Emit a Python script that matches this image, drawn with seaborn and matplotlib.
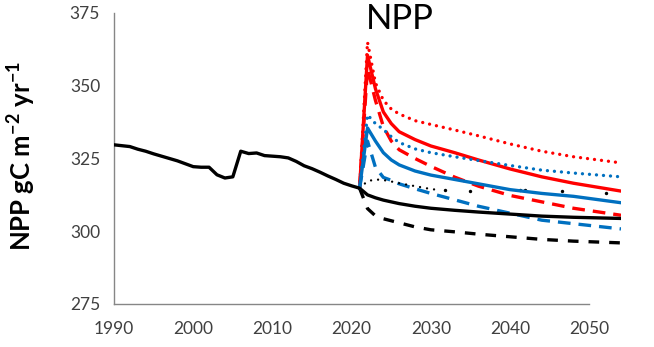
import numpy as np
import pandas as pd
import matplotlib
matplotlib.use("Agg")
import matplotlib.pyplot as plt
import seaborn as sns

# ---- data -------------------------------------------------------------
hist_years = [1990, 1991, 1992, 1993, 1994, 1995, 1996, 1997, 1998, 1999,
              2000, 2001, 2002, 2003, 2004, 2005, 2006, 2007, 2008, 2009,
              2010, 2011, 2012, 2013, 2014, 2015, 2016, 2017, 2018, 2019,
              2020, 2021]
hist_npp = [329.7, 329.4, 329.1, 328.2, 327.5, 326.6, 325.8, 325.0, 324.2, 323.2,
            322.2, 322.0, 322.0, 319.4, 318.3, 318.7, 327.5, 326.7, 326.9, 326.0,
            325.8, 325.6, 325.2, 324.0, 322.5, 321.5, 320.3, 319.0, 317.8, 316.5,
            315.6, 314.8]

scen_years = [2021, 2022, 2023, 2024, 2025, 2026, 2028, 2030, 2033, 2036,
              2040, 2044, 2048, 2054]
red_dotted = [314.8, 365.0, 351.0, 345.0, 342.0, 340.3, 338.0, 336.7, 334.8, 332.8,
              330.0, 327.5, 325.6, 323.5]
red_solid = [314.8, 360.5, 349.0, 341.0, 337.0, 334.2, 331.5, 329.3, 327.0, 324.5,
             321.4, 318.7, 316.5, 313.8]
red_dashed = [314.8, 356.0, 345.0, 336.0, 331.0, 328.0, 325.0, 322.3, 318.6, 315.5,
              312.3, 310.1, 307.9, 305.5]
blue_dotted = [314.8, 340.0, 337.0, 335.0, 332.5, 330.5, 328.3, 327.0, 325.6, 324.3,
               322.6, 321.0, 320.0, 318.7]
blue_solid = [314.8, 335.5, 331.0, 327.0, 324.5, 322.8, 320.7, 319.3, 317.8, 316.3,
              314.3, 313.0, 312.0, 309.8]
blue_dashed = [314.8, 331.0, 322.0, 318.5, 317.5, 316.3, 314.6, 313.0, 310.8, 308.6,
               306.2, 303.8, 302.6, 300.8]
black_solid = [314.8, 312.5, 311.5, 310.7, 310.1, 309.5, 308.6, 307.9, 307.2, 306.6,
               305.9, 305.2, 304.8, 304.4]
black_dashed = [314.8, 307.8, 305.3, 304.3, 303.6, 302.9, 301.5, 300.5, 299.8, 299.0,
                298.1, 297.2, 296.6, 296.0]

black_dotted_years = [2021, 2022, 2023, 2024, 2025, 2026, 2028, 2030, 2031]
black_dotted = [314.8, 317.2, 317.8, 317.6, 317.1, 316.5, 315.5, 314.5, 314.2]
black_dot_years = [2031.8, 2035.0, 2041.3, 2041.9, 2046.6, 2052.1]
black_dot_npp = [314.1, 313.8, 314.2, 314.2, 313.8, 313.3]

x_ticks = [1990, 2000, 2010, 2020, 2030, 2040, 2050]
y_ticks = [275, 300, 325, 350, 375]

# ---- style ------------------------------------------------------------
sns.set_style("white")
plt.rcParams["font.family"] = ["Lato", "DejaVu Sans"]
plt.rcParams["mathtext.fontset"] = "custom"
plt.rcParams["mathtext.rm"] = "Lato"
plt.rcParams["mathtext.bf"] = "Lato:bold"

RED = "#FF0000"
BLUE = "#0070C0"
LW = 2.4

fig = plt.figure(figsize=(6.54, 3.47), dpi=100)
ax = fig.add_axes([114 / 654, 1 - 304 / 347, (621 - 114) / 654, (304 - 13) / 347])

dot = (0, (0.01, 2.1))
dash = (0, (3.8, 2.4))
dash_k = (0, (3.2, 3.0))

series = [
    (red_dotted, RED, dot, "round"),
    (red_dashed, RED, dash, "butt"),
    (red_solid, RED, "-", "butt"),
    (blue_dotted, BLUE, dot, "round"),
    (blue_dashed, BLUE, dash, "butt"),
    (black_dashed, "black", dash_k, "butt"),
    (black_solid, "black", "-", "butt"),
]
for vals, col, ls, cap in series:
    df = pd.DataFrame({"year": scen_years, "npp": vals})
    sns.lineplot(data=df, x="year", y="npp", ax=ax, color=col, lw=LW,
                 linestyle=ls, dash_capstyle=cap, estimator=None, zorder=2)

dfd = pd.DataFrame({"year": black_dotted_years, "npp": black_dotted})
sns.lineplot(data=dfd, x="year", y="npp", ax=ax, color="black", lw=1.7,
             linestyle=(0, (0.01, 3.0)), dash_capstyle="round",
             estimator=None, zorder=2)
sns.scatterplot(x=black_dot_years, y=black_dot_npp, ax=ax, color="black",
                s=6, linewidth=0, zorder=2)

dfb = pd.DataFrame({"year": scen_years, "npp": blue_solid})
sns.lineplot(data=dfb, x="year", y="npp", ax=ax, color=BLUE, lw=LW,
             estimator=None, zorder=3)

dfh = pd.DataFrame({"year": hist_years, "npp": hist_npp})
sns.lineplot(data=dfh, x="year", y="npp", ax=ax, color="black", lw=LW,
             estimator=None, zorder=4)

# ---- axes -------------------------------------------------------------
ax.set_xlim(1990, 2054)
ax.set_ylim(275, 375)
ax.set_xticks(x_ticks)
ax.set_yticks(y_ticks)
for s in ("top", "right"):
    ax.spines[s].set_visible(False)
for s in ("left", "bottom"):
    ax.spines[s].set_color("#868686")
    ax.spines[s].set_linewidth(1.0)
ax.spines["bottom"].set_bounds(1990, 2050)
ax.tick_params(axis="both", direction="out", length=6, width=1.0,
               color="#868686", labelcolor="#404040", labelsize=12.5, pad=4)
ax.tick_params(axis="x", pad=6)
ax.set_xlabel("")
ax.set_ylabel(r"NPP gC m$^{\mathbf{-2}}$ yr$^{\mathbf{-1}}$",
              fontsize=18.5, fontweight="bold", color="black")
ax.yaxis.set_label_coords(-0.150, 0.51)

fig.text(400 / 654, 1 - 19 / 347, "NPP", ha="center", va="center",
         fontsize=25, color="black")

fig.savefig("out.png", dpi=100)
